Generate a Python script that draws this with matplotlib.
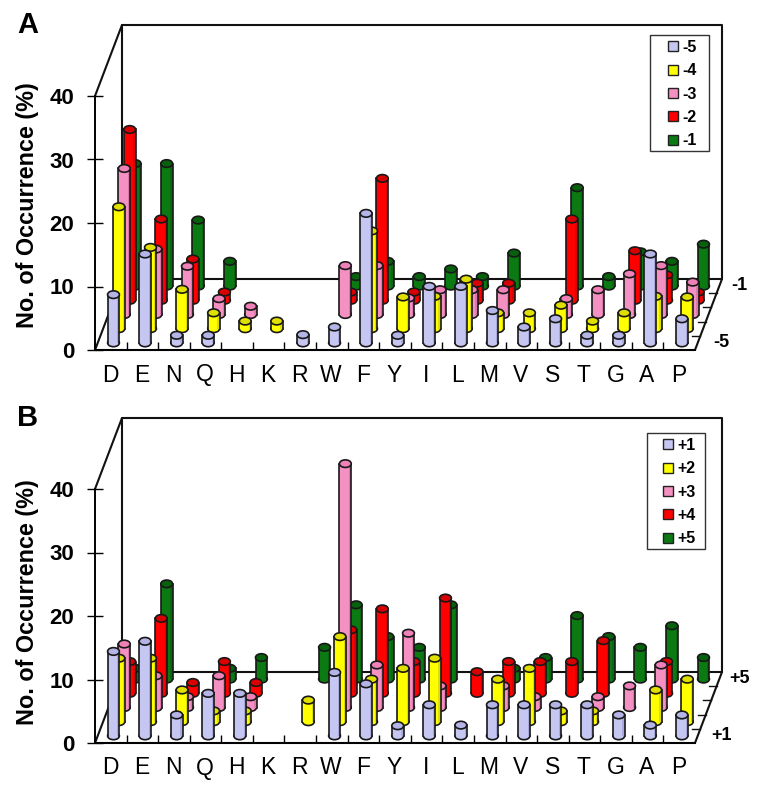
import numpy as np
import matplotlib
matplotlib.use("Agg")
import matplotlib.pyplot as plt
from matplotlib.patches import Ellipse, Rectangle, Patch

plt.rcParams['font.family'] = ['Liberation Sans', 'DejaVu Sans']

residues = ["D","E","N","Q","H","K","R","W","F","Y","I","L","M","V","S","T","G","A","P"]
n = None

# panel A, positions -5 to -1
a_m5 = [7.6,14,1.2,1.2,n,n,1.3,2.5,20.4,1.2,8.9,8.9,5.1,2.5,3.8,1.2,1.2,14,3.8]
a_m4 = [19.2,12.8,6.2,2.5,1.2,1.2,n,n,15.4,5,5.1,7.8,2.5,2.5,3.7,1.2,2.5,5.1,5]
a_m3 = [23,10.3,7.6,2.5,1.3,n,n,7.7,7.7,2.6,3.9,3.9,3.9,n,2.5,3.9,6.4,7.7,5.1]
a_m2 = [26.9,12.8,6.5,1.3,n,n,n,1.3,19.2,1.3,n,2.7,2.7,n,12.8,n,7.8,4,1.3]
a_m1 = [19.3,19.3,10.4,3.9,n,n,n,1.5,3.9,1.5,2.7,1.5,5.2,n,15.5,1.5,5.4,3.9,6.6]

# panel B, positions +1 to +5
b_p1 = [13.3,14.9,3.3,6.7,6.7,n,n,10,8.2,1.6,4.9,1.7,4.9,4.9,4.9,4.9,3.3,1.7,3.3]
b_p2 = [10,10,5,1.7,1.7,n,3.4,13.4,6.7,8.4,10,n,6.7,8.4,1.7,1.7,n,5,6.7]
b_p3 = [10,5,1.7,5,1.7,n,n,38.4,6.7,11.7,3.4,n,3.4,1.7,n,1.7,3.4,6.7,n]
b_p4 = [5,11.8,1.7,5,1.7,n,n,10,13.3,5,15,3.4,5,5,5,8.3,n,5,n]
b_p5 = [1.7,15,n,1.7,3.4,n,5,11.7,6.7,5,11.7,n,1.7,3.4,10,6.7,5,8.4,3.4]

colors = ["#C6C6F2", "#FFFF00", "#F590C2", "#FF0000", "#0B7A12"]
shade_colors = ["#A9A9DC", "#DDDD00", "#DE78AC", "#DC0000", "#086A0E"]
top_colors = ["#B4B4E6", "#E0E000", "#F080B8", "#D80000", "#07600C"]

W, H = 762, 789
px_x = 600 / 19      # pixels per category
px_y = 254 / 40      # pixels per unit
dx = 27 / 5 / px_x   # depth step
dy = 71 / 5 / px_y
rx = 5.9 / px_x      # cylinder radius
ry = 3.8 / px_y
shade = 2.2 / px_x   # width of the dark strip on each bar


def draw_panel(ax, series, names, letter, legend_box, depth_labels, label_y):
    fig = ax.figure
    ax.set_xlim(0, 19)
    ax.set_ylim(0, 40)
    ax.patch.set_alpha(0)
    for s in ["top", "right"]:
        ax.spines[s].set_visible(False)
    for s in ["left", "bottom"]:
        ax.spines[s].set_linewidth(1.4)
        ax.spines[s].set_zorder(1)

    ax.set_yticks([0, 10, 20, 30, 40])
    ax.tick_params(axis="y", direction="inout", length=12, width=1, pad=9, labelsize=16)
    for t in ax.get_yticklabels():
        t.set_fontweight("bold")
    ax.set_xticks(np.arange(20)[1:19])
    ax.tick_params(axis="x", direction="in", length=6, width=1, labelbottom=False)
    for i, r in enumerate(residues):
        ax.text(i + 0.5 - 0.02, -13.5 / px_y, r, ha="center", va="top", fontsize=16.5,
                color="black", clip_on=False)
    ax.set_ylabel("No. of Occurrence (%)", fontsize=16.8, fontweight="bold")
    ax.yaxis.set_label_coords(-0.093, label_y)

    # walls and floor
    bx, by = 5 * dx, 5 * dy
    wall = dict(color="#111111", lw=1.5, clip_on=False, zorder=0.5, solid_capstyle="round")
    ax.plot([0, bx, bx, 19 + bx, 19 + bx, 19, 0], [0, by, 40 + by, 40 + by, by, 0, 0], **wall)
    ax.plot([0, bx], [40, 40 + by], **wall)
    ax.plot([bx, 19 + bx], [by, by], **wall)
    for k in range(1, 5):
        ax.plot([19 + k * dx - 8 / px_x, 19 + k * dx], [k * dy, k * dy], color="#111111",
                lw=1, clip_on=False, zorder=0.5)

    # back row first so the front rows cover it
    z = 2
    for k in range(4, -1, -1):
        for i, v in enumerate(series[k]):
            if v is None:
                continue
            cx = i + 0.5 + (k + 0.5) * dx
            b = (k + 0.5) * dy
            edge = dict(edgecolor="#181818", linewidth=1.2, clip_on=False, zorder=z)
            ax.add_patch(Ellipse((cx, b), 2 * rx, 2 * ry, facecolor=colors[k], **edge))
            ax.add_patch(Rectangle((cx - rx, b), 2 * rx, v, facecolor=colors[k],
                                   edgecolor="none", clip_on=False, zorder=z))
            ax.add_patch(Rectangle((cx + rx - shade, b), shade, v, facecolor=shade_colors[k],
                                   edgecolor="none", clip_on=False, zorder=z))
            ax.plot([cx - rx, cx - rx], [b, b + v], color="#181818", lw=1.2, clip_on=False, zorder=z)
            ax.plot([cx + rx, cx + rx], [b, b + v], color="#181818", lw=1.2, clip_on=False, zorder=z)
            ax.add_patch(Ellipse((cx, b + v), 2 * rx, 2 * ry, facecolor=top_colors[k], **edge))
            z += 0.01

    x0, y0, bw, bh, hx = legend_box
    fig.add_artist(Rectangle((x0 / W, 1 - (y0 + bh) / H), bw / W, bh / H, transform=fig.transFigure,
                             facecolor="white", edgecolor="#333333", lw=1, zorder=40))
    handles = [Patch(facecolor=c, edgecolor="#222222", lw=1) for c in colors]
    leg = ax.legend(handles, names, loc="upper left", prop=dict(size=11.5, weight="bold"),
                    bbox_to_anchor=(hx / W, 1 - (y0 + 5) / H), bbox_transform=fig.transFigure,
                    frameon=False, handlelength=0.6, handleheight=0.6, labelspacing=0.52,
                    handletextpad=0.3, borderpad=0, borderaxespad=0)
    leg.set_zorder(50)
    ax.set_zorder(41)

    ax.text(-78 / px_x, 51.2, letter, fontsize=21, fontweight="bold", ha="left",
            va="center", clip_on=False)
    ax.text(19 + 44 / px_x, 10.2, depth_labels[0], fontsize=13, fontweight="bold", ha="center",
            va="center", clip_on=False)
    ax.text(19 + 26 / px_x, 1.2, depth_labels[1], fontsize=13, fontweight="bold", ha="center",
            va="center", clip_on=False)


fig = plt.figure(figsize=(W / 100, H / 100), dpi=100, facecolor="white")
ax_a = fig.add_axes([95 / W, 1 - 350 / H, 600 / W, 254 / H])
ax_b = fig.add_axes([95 / W, 1 - 743 / H, 600 / W, 254 / H])

draw_panel(ax_a, [a_m5, a_m4, a_m3, a_m2, a_m1], ["-5", "-4", "-3", "-2", "-1"], "A",
           (650, 35, 59, 116, 668), ("-1", "-5"), 0.571)
draw_panel(ax_b, [b_p1, b_p2, b_p3, b_p4, b_p5], ["+1", "+2", "+3", "+4", "+5"], "B",
           (647, 433, 58, 116, 663), ("+5", "+1"), 0.555)

fig.savefig("out.png", dpi=100)
